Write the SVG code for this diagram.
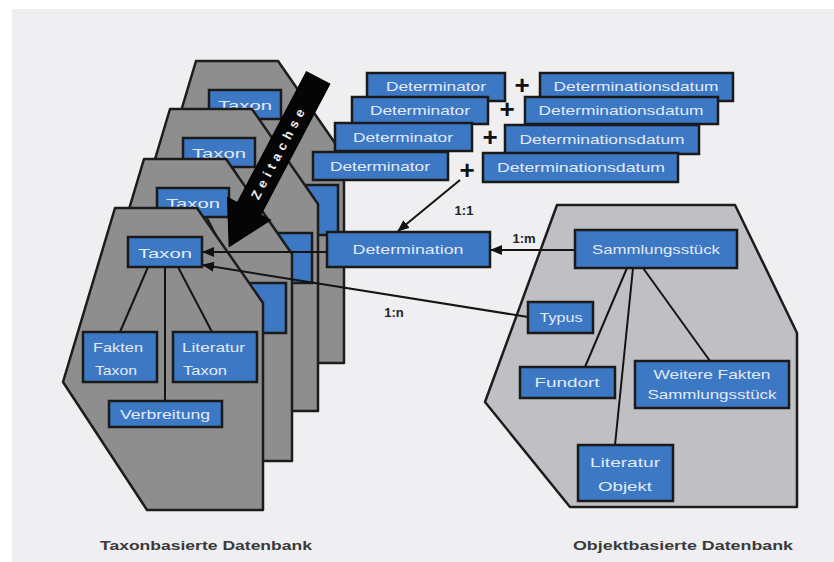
<svg xmlns="http://www.w3.org/2000/svg" width="834" height="562" viewBox="0 0 834 562">
<defs>
<style>
.bg{fill:#efeff1}
.tp{fill:#8e8e8e;stroke:#1c1c1c;stroke-width:2.5;stroke-linejoin:round}
.op{fill:#c0c0c4;stroke:#1c1c1c;stroke-width:2.5;stroke-linejoin:round}
.halo{fill:none;stroke:#ffffff;stroke-width:6;stroke-linejoin:round}
.box{fill:#3c78c4;stroke:#1a1a1a;stroke-width:2.5}
.bt{font-family:"Liberation Sans",Arial,sans-serif;font-size:13px;fill:#e2eaf7}
.c{text-anchor:middle}
.ln{stroke:#141414;stroke-width:2;fill:none}
.lbl{font-family:"Liberation Sans",Arial,sans-serif;font-size:13px;font-weight:bold;fill:#222;text-anchor:middle}
.plus{font-family:"Liberation Sans",Arial,sans-serif;font-size:26px;font-weight:bold;fill:#111;text-anchor:middle}
.cap{font-family:"Liberation Sans",Arial,sans-serif;font-size:13px;font-weight:bold;fill:#3a3a3a;text-anchor:middle}
</style>
<marker id="ah" markerUnits="userSpaceOnUse" markerWidth="12" markerHeight="10" refX="11" refY="5" orient="auto">
<path d="M0,0 L12,5 L0,10 z" fill="#111"/>
</marker>
<polygon id="tpoly" points="115,208 197,208 263,303 263,510 147,510 63,382"/>
</defs>
<rect x="0" y="0" width="834" height="562" fill="#ffffff"/>
<rect class="bg" x="12" y="9" width="822" height="553"/>

<!-- back taxon panels -->
<g id="taxon-panel-3" transform="translate(81,-147)">
<polygon class="tp" points="115,208 197,208 263,303 263,510 147,510 63,382"/>
<line class="ln" x1="178" y1="267" x2="212" y2="332"/>
<rect class="box" x="173" y="332" width="84" height="50"/>
<rect class="box" x="128" y="237" width="72" height="29"/>
<text class="bt c" x="164" y="257" font-size="15" textLength="54" lengthAdjust="spacingAndGlyphs">Taxon</text>
</g>
<g id="taxon-panel-2" transform="translate(55,-99)">
<polygon class="tp" points="115,208 197,208 263,303 263,510 147,510 63,382"/>
<line class="ln" x1="178" y1="267" x2="212" y2="332"/>
<rect class="box" x="173" y="332" width="84" height="50"/>
<rect class="box" x="128" y="237" width="72" height="29"/>
<text class="bt c" x="164" y="257" font-size="15" textLength="54" lengthAdjust="spacingAndGlyphs">Taxon</text>
</g>
<g id="taxon-panel-1" transform="translate(29,-49)">
<polygon class="tp" points="115,208 197,208 263,303 263,510 147,510 63,382"/>
<line class="ln" x1="178" y1="267" x2="212" y2="332"/>
<rect class="box" x="173" y="332" width="84" height="50"/>
<rect class="box" x="128" y="237" width="72" height="29"/>
<text class="bt c" x="164" y="257" font-size="15" textLength="54" lengthAdjust="spacingAndGlyphs">Taxon</text>
</g>

<!-- Zeitachse arrow -->
<g id="zeitachse" transform="translate(318,78) rotate(117.8)">
<polygon points="0,-13 148,-13 148,-24 190,0 148,24 148,13 0,13" fill="#050505" stroke="#000" stroke-width="1.5"/>
<text transform="translate(86,0) rotate(180)" y="4.5" text-anchor="middle" font-family="Liberation Sans,Arial,sans-serif" font-size="13" font-weight="bold" fill="#f2f2f2" textLength="100" lengthAdjust="spacing">Zeitachse</text>
</g>

<!-- front taxon panel -->
<g id="taxon-panel-front">
<polygon class="tp" points="115,208 197,208 263,303 263,510 147,510 63,382"/>
</g>

<!-- object panel -->
<g id="objekt-panel">
<polygon class="op" points="557,205 735,205 797,333 797,507 570,507 485,402"/>
</g>

<!-- connectors -->
<g id="connectors">
<line class="ln" x1="148" y1="267" x2="120" y2="332"/>
<line class="ln" x1="165" y1="267" x2="165" y2="401"/>
<line class="ln" x1="178" y1="267" x2="212" y2="332"/>
<line class="ln" x1="627" y1="268" x2="585" y2="367"/>
<line class="ln" x1="633" y1="268" x2="615" y2="445"/>
<line class="ln" x1="643" y1="268" x2="710" y2="361"/>
<line class="ln" x1="575" y1="250" x2="491" y2="250" marker-end="url(#ah)"/>
<line class="ln" x1="327" y1="252" x2="203" y2="252" marker-end="url(#ah)"/>
<line class="ln" x1="528" y1="317" x2="203" y2="265" marker-end="url(#ah)"/>
<line class="ln" x1="460" y1="180" x2="398" y2="231" marker-end="url(#ah)"/>
<text class="lbl" x="464" y="215">1:1</text>
<text class="lbl" x="524" y="243">1:m</text>
<text class="lbl" x="394" y="317">1:n</text>
</g>

<!-- front panel nodes -->
<g id="taxon">
<rect class="box" x="128" y="237" width="74" height="30"/>
<text class="bt c" x="165" y="258" font-size="16" textLength="54" lengthAdjust="spacingAndGlyphs">Taxon</text>
</g>
<g id="fakten-taxon">
<rect class="box" x="83" y="332" width="74" height="50"/>
<text class="bt" x="93" y="352" textLength="50" lengthAdjust="spacingAndGlyphs">Fakten</text>
<text class="bt" x="95" y="375" textLength="42" lengthAdjust="spacingAndGlyphs">Taxon</text>
</g>
<g id="literatur-taxon">
<rect class="box" x="173" y="332" width="84" height="50"/>
<text class="bt" x="182" y="352" textLength="63" lengthAdjust="spacingAndGlyphs">Literatur</text>
<text class="bt" x="183" y="375" textLength="44" lengthAdjust="spacingAndGlyphs">Taxon</text>
</g>
<g id="verbreitung">
<rect class="box" x="109" y="401" width="113" height="26"/>
<text class="bt c" x="165" y="419" textLength="90" lengthAdjust="spacingAndGlyphs">Verbreitung</text>
</g>

<!-- determinator stack -->
<g id="det-row-1">
<rect class="box" x="367" y="73" width="138" height="28"/>
<text class="bt c" x="436" y="91" textLength="100" lengthAdjust="spacingAndGlyphs">Determinator</text>
<text class="plus" x="522" y="94">+</text>
<rect class="box" x="540" y="73" width="193" height="28"/>
<text class="bt c" x="636" y="91" textLength="165" lengthAdjust="spacingAndGlyphs">Determinationsdatum</text>
</g>
<g id="det-row-2">
<rect class="box" x="352" y="97" width="136" height="27"/>
<text class="bt c" x="420" y="115" textLength="100" lengthAdjust="spacingAndGlyphs">Determinator</text>
<text class="plus" x="507" y="118">+</text>
<rect class="box" x="525" y="97" width="193" height="27"/>
<text class="bt c" x="621" y="115" textLength="165" lengthAdjust="spacingAndGlyphs">Determinationsdatum</text>
</g>
<g id="det-row-3">
<rect class="box" x="335" y="123" width="137" height="28"/>
<text class="bt c" x="403" y="142" textLength="100" lengthAdjust="spacingAndGlyphs">Determinator</text>
<text class="plus" x="490" y="146">+</text>
<rect class="box" x="505" y="125" width="194" height="29"/>
<text class="bt c" x="602" y="144" textLength="165" lengthAdjust="spacingAndGlyphs">Determinationsdatum</text>
</g>
<g id="det-row-4">
<rect class="box" x="313" y="152" width="135" height="28"/>
<text class="bt c" x="380" y="171" textLength="100" lengthAdjust="spacingAndGlyphs">Determinator</text>
<text class="plus" x="467" y="179">+</text>
<rect class="box" x="483" y="153" width="195" height="29"/>
<text class="bt c" x="581" y="172" textLength="168" lengthAdjust="spacingAndGlyphs">Determinationsdatum</text>
</g>

<g id="determination">
<rect class="box" x="327" y="232" width="163" height="35"/>
<text class="bt c" x="408" y="254" font-size="14" textLength="111" lengthAdjust="spacingAndGlyphs">Determination</text>
</g>

<!-- object nodes -->
<g id="sammlungsstueck">
<rect class="box" x="575" y="230" width="162" height="38"/>
<text class="bt c" x="656" y="254" font-size="14" textLength="128" lengthAdjust="spacingAndGlyphs">Sammlungsstück</text>
</g>
<g id="typus">
<rect class="box" x="528" y="302" width="65" height="31"/>
<text class="bt c" x="561" y="322" textLength="43" lengthAdjust="spacingAndGlyphs">Typus</text>
</g>
<g id="fundort">
<rect class="box" x="520" y="367" width="95" height="31"/>
<text class="bt c" x="567" y="387" textLength="65" lengthAdjust="spacingAndGlyphs">Fundort</text>
</g>
<g id="weitere-fakten">
<rect class="box" x="635" y="361" width="154" height="47"/>
<text class="bt c" x="712" y="379" textLength="117" lengthAdjust="spacingAndGlyphs">Weitere Fakten</text>
<text class="bt c" x="712" y="399" textLength="129" lengthAdjust="spacingAndGlyphs">Sammlungsstück</text>
</g>
<g id="literatur-objekt">
<rect class="box" x="578" y="445" width="95" height="56"/>
<text class="bt c" x="625" y="467" textLength="70" lengthAdjust="spacingAndGlyphs">Literatur</text>
<text class="bt c" x="625" y="491" textLength="54" lengthAdjust="spacingAndGlyphs">Objekt</text>
</g>

<text class="cap" x="206" y="550" textLength="212" lengthAdjust="spacingAndGlyphs">Taxonbasierte Datenbank</text>
<text class="cap" x="683" y="550" textLength="220" lengthAdjust="spacingAndGlyphs">Objektbasierte Datenbank</text>
</svg>
